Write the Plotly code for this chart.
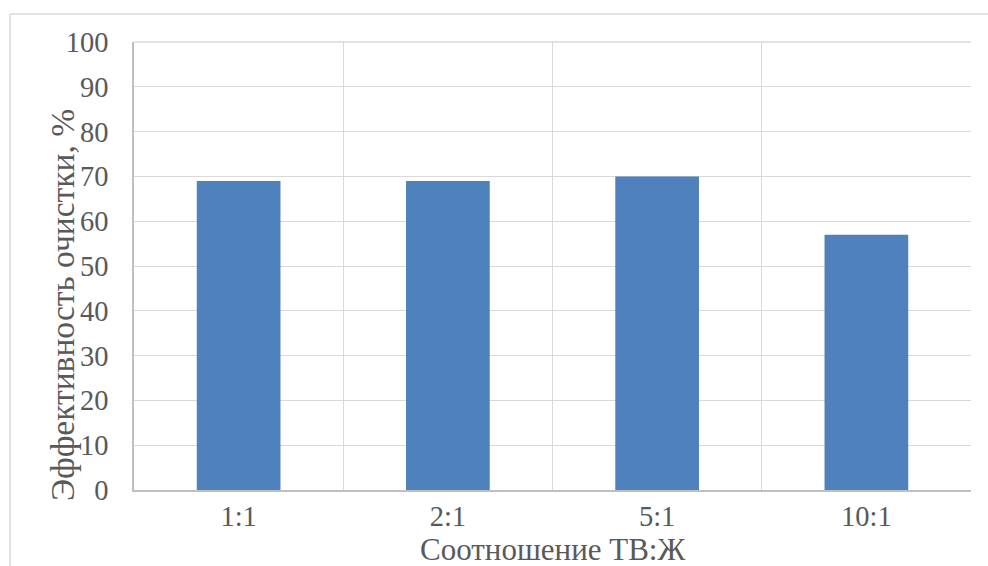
import plotly.graph_objects as go

categories = ["1:1", "2:1", "5:1", "10:1"]
values = [69, 69, 70, 57]
y_ticks = list(range(0, 101, 10))
x_title = "Соотношение ТВ:Ж"
y_title = "Эффективность очистки, %"

FONT = "Liberation Serif, Times New Roman, serif"
TXT = "#595959"

fig = go.Figure(go.Bar(x=categories, y=values, marker=dict(color="#4f81bd", line=dict(width=0))))

W, H = 988, 566
ml, mr, mt, mb = 134, 17, 42, 76
pw, ph = W - ml - mr, H - mt - mb

def px_x(p):
    return (p - ml) / pw

def px_y(p):
    return (H - mb - p) / ph

fig.update_layout(
    width=W, height=H,
    margin=dict(l=ml, r=mr, t=mt, b=mb, pad=0),
    paper_bgcolor="white", plot_bgcolor="white",
    bargap=0.6,
    showlegend=False,
    font=dict(family=FONT, size=28, color=TXT),
    xaxis=dict(type="category", tickson="boundaries", showgrid=True, gridcolor="#d9d9d9", gridwidth=1.3,
               showline=True, linecolor="#bfbfbf", linewidth=1.5,
               ticks="outside", ticklen=20, tickcolor="rgba(0,0,0,0)",
               tickfont=dict(family=FONT, size=28.5, color=TXT), zeroline=False),
    yaxis=dict(range=[0, 100], tickvals=y_ticks, showgrid=True, gridcolor="#d9d9d9", gridwidth=1.3,
               showline=True, linecolor="#bfbfbf", linewidth=1.5,
               ticks="outside", ticklen=18, tickcolor="rgba(0,0,0,0)",
               tickfont=dict(family=FONT, size=28.5, color=TXT), zeroline=False),
    shapes=[
        dict(type="line", xref="paper", yref="paper", x0=px_x(10), x1=px_x(1000), y0=px_y(14), y1=px_y(14),
             line=dict(color="#d9d9d9", width=1.5)),
        dict(type="line", xref="paper", yref="paper", x0=px_x(10), x1=px_x(10), y0=px_y(14), y1=px_y(600),
             line=dict(color="#d9d9d9", width=1.5)),
        dict(type="line", xref="paper", yref="paper", x0=0, x1=1, y0=1, y1=1,
             line=dict(color="#d9d9d9", width=1.3), layer="below"),
    ],
    annotations=[
        dict(text=x_title, xref="paper", yref="paper", x=0.5, y=px_y(549), showarrow=False,
             xanchor="center", yanchor="middle", font=dict(family=FONT, size=31, color=TXT)),
        dict(text=y_title, xref="paper", yref="paper", x=px_x(62), y=px_y(305), showarrow=False,
             textangle=-90, xanchor="center", yanchor="middle", font=dict(family=FONT, size=33.5, color=TXT)),
    ],
)

fig.write_html("out.html")
